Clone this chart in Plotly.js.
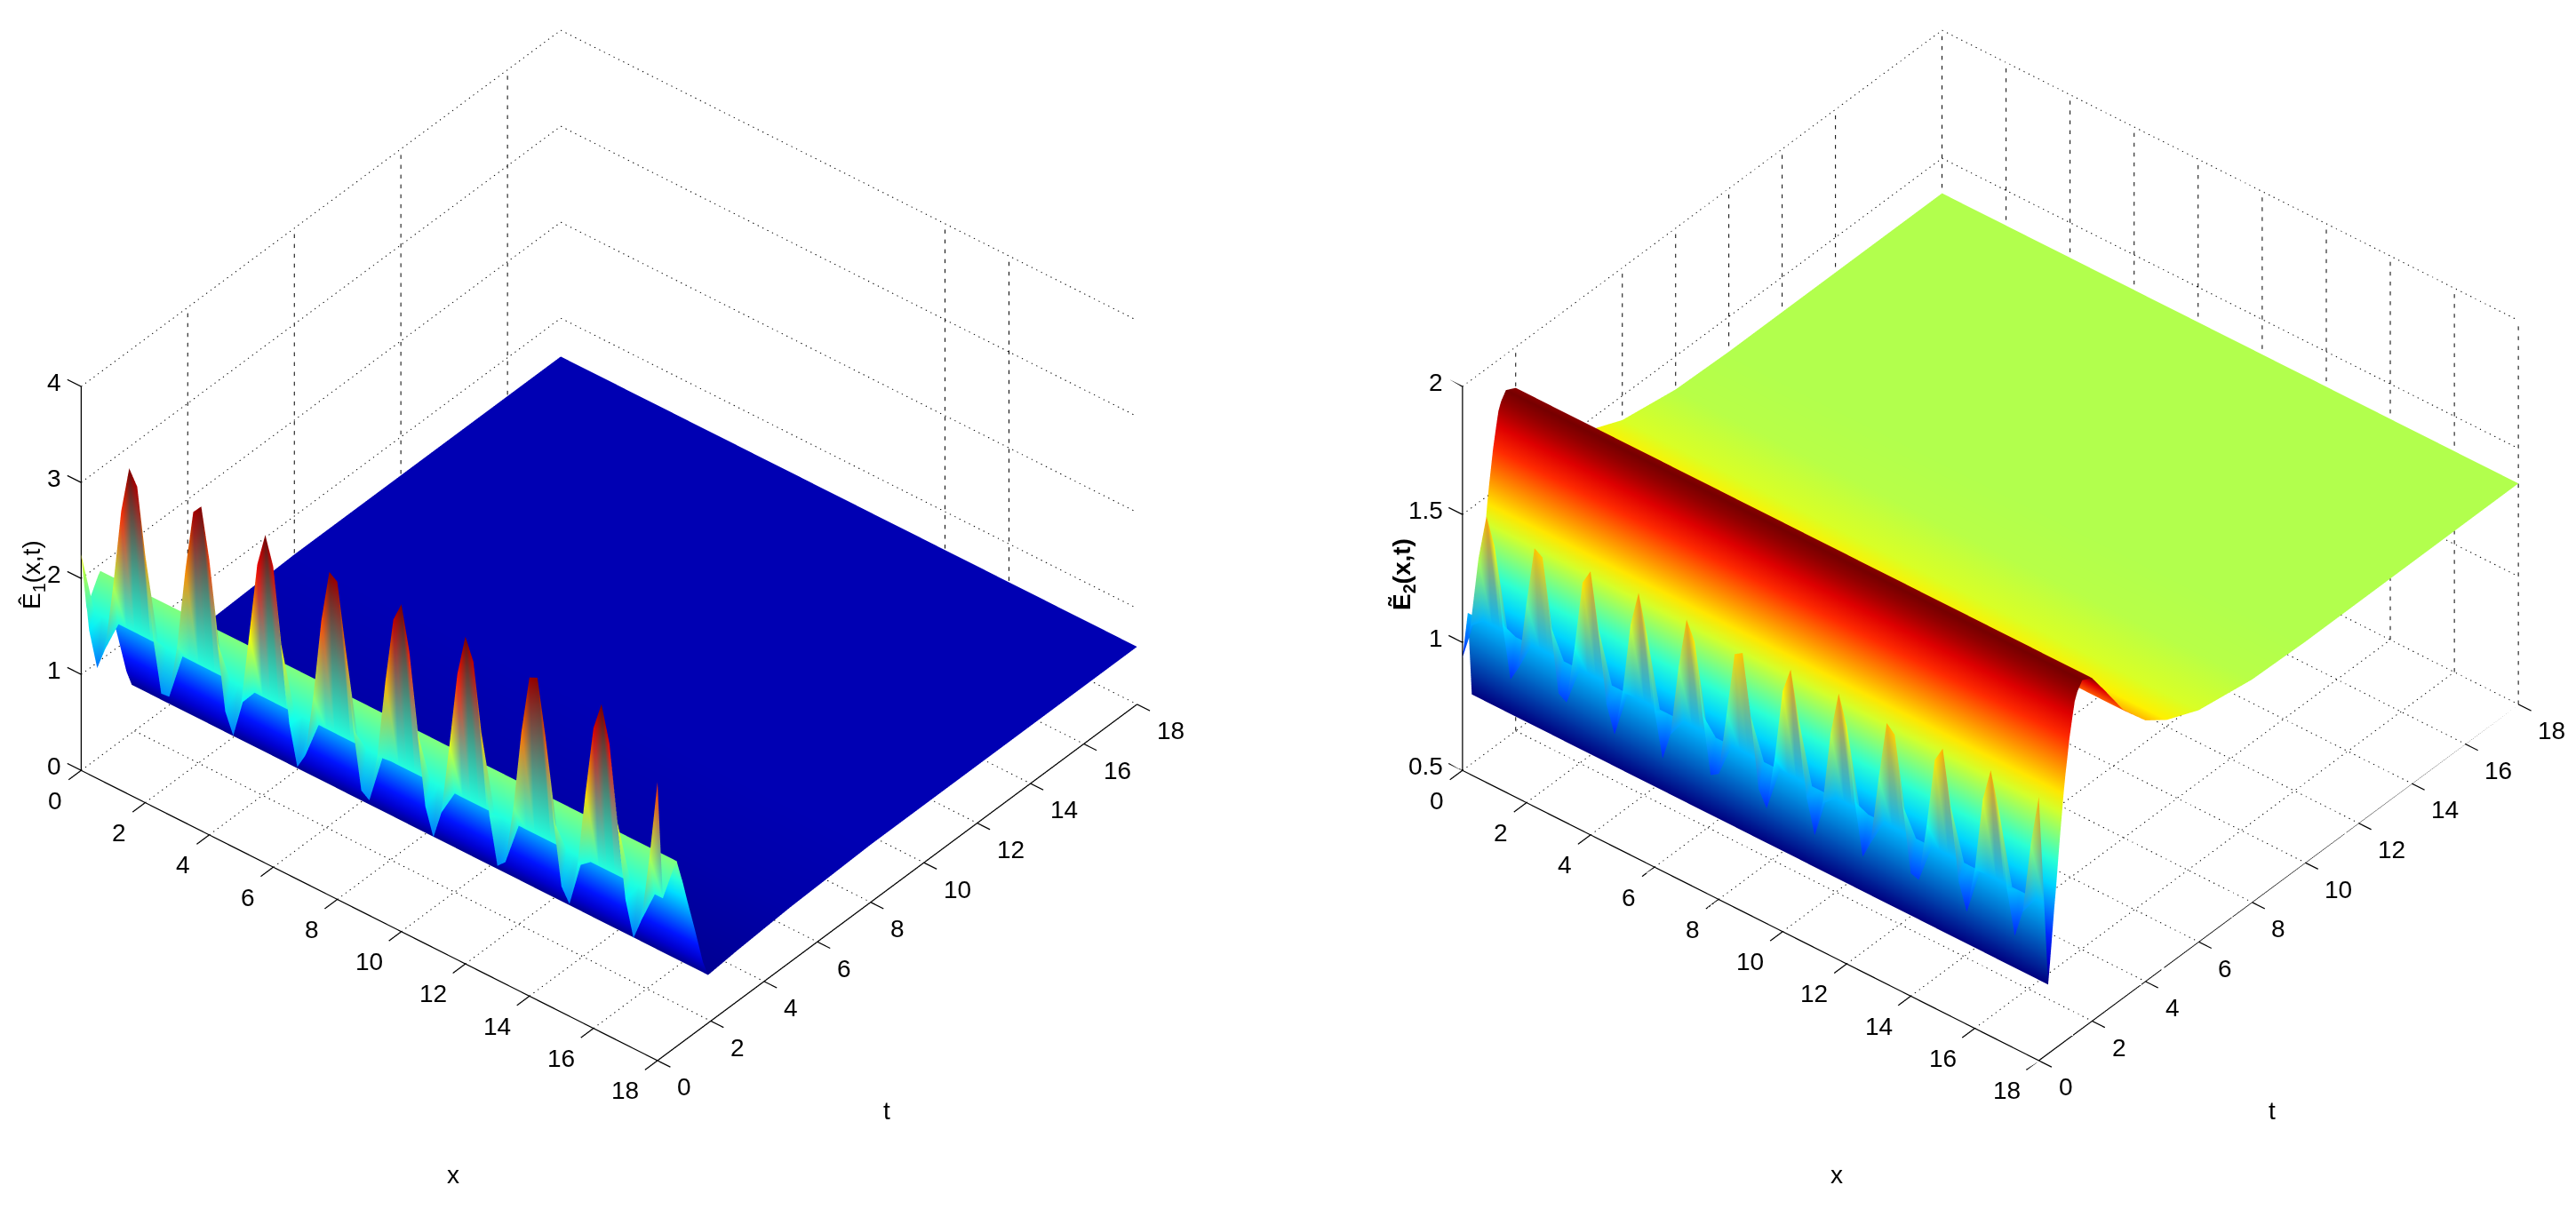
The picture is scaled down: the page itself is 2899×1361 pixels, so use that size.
<!DOCTYPE html>
<html>
<head>
<meta charset="utf-8">
<script src="https://cdn.plot.ly/plotly-3.0.1.min.js"></script>
<style>html,body{margin:0;padding:0;background:#fff}#plot{width:2899px;height:1361px}</style>
</head>
<body>
<div id="plot"></div>
<script>
// x samples along the first row of both surfaces
const xValues = [0,0.25,0.5,0.75,1,1.25,1.5,1.75,2,2.25,2.5,2.75,3,3.25,3.5,3.75,4,4.25,4.5,4.75,5,5.25,5.5,5.75,6,6.25,6.5,6.75,7,7.25,7.5,7.75,8,8.25,8.5,8.75,9,9.25,9.5,9.75,10,10.25,10.5,10.75,11,11.25,11.5,11.75,12,12.25,12.5,12.75,13,13.25,13.5,13.75,14,14.25,14.5,14.75,15,15.25,15.5,15.75,16,16.25,16.5,16.75,17,17.25,17.5,17.75,18];

// left surface: oscillating row at t=0, then rows that are flat in x
const leftFirstRow = [2.25,1.50,1.15,1.39,2.09,2.91,3.40,3.25,2.58,1.75,1.22,1.23,1.80,2.62,3.28,3.38,2.87,2.05,1.37,1.16,1.54,2.30,3.07,3.42,3.13,2.36,1.58,1.17,1.33,1.99,2.82,3.37,3.31,2.68,1.85,1.26,1.20,1.70,2.52,3.21,3.41,2.96,2.16,1.43,1.15,1.45,2.19,2.98,3.41,3.19,2.49,1.67,1.19,1.27,1.88,2.71,3.32,3.36,2.79,1.96,1.31,1.17,1.61,2.41,3.13,3.42,3.05,2.27,1.51,1.15,1.38,2.08,2.90];
const leftTimes = [0.2,0.64,0.72,0.83,0.95,1.1,1.25,1.4,1.55,1.7,1.9,3,5,8,18];
const leftRows = [1.65,1.90,1.93,1.80,1.66,1.46,1.27,1.08,0.88,0.68,0.5,0.53,0.57,0.6,0.6];
const leftRange = [0.45, 3.4];
const leftZTicks = [0,1,2,3,4];
// the original only shows some of the wall verticals
const leftWallT = [4,8,12,16];
const leftWallX = [12,14];

// right surface
const rightFirstRow = [0.94,1.08,1.36,1.54,1.44,1.15,0.95,1.01,1.28,1.51,1.49,1.24,0.99,0.97,1.20,1.47,1.53,1.32,1.04,0.94,1.12,1.40,1.54,1.40,1.11,0.94,1.05,1.33,1.53,1.46,1.19,0.97,0.99,1.24,1.49,1.51,1.28,1.01,0.95,1.16,1.44,1.54,1.36,1.07,0.94,1.08,1.37,1.54,1.43,1.15,0.95,1.02,1.29,1.52,1.49,1.23,0.98,0.97,1.20,1.47,1.53,1.32,1.04,0.94,1.12,1.41,1.54,1.40,1.11,0.94,1.05,1.33,1.53];
const rightTimes = [0.2,0.35,0.42,0.5,0.58,0.65,0.72,0.8,0.87,0.93,1,1.07,1.15,1.27,1.35,1.45,1.63,2,2.5,3.2,4,4.8,6,8,10,18];
const rightRows = [1.10,0.77,0.85,0.95,1.05,1.13,1.22,1.32,1.40,1.47,1.54,1.60,1.67,1.75,1.80,1.83,1.86,1.84,1.75,1.62,1.52,1.46,1.405,1.37,1.363,1.363];
const rightRange = [0.77, 1.85];
const rightZTicks = [0.5,1,1.5,2];
const rightWallT = [2,6,8,10,12,14,18];
const rightWallX = [2,4,6,8,10,12,14,16,18];

const axisTicks = [0,2,4,6,8,10,12,14,16,18];

const fontName = 'Liberation Sans';

function jet(v) {
  const c = (d) => Math.round(255 * Math.max(0, Math.min(1, 1.5 - Math.abs(4 * v - d))));
  return 'rgb(' + c(3) + ',' + c(2) + ',' + c(1) + ')';
}

// mesh with colours per vertex, so the long cells mix rgb like the original
function surfaceTrace(firstRow, times, rows, range, scene) {
  const ts = [0].concat(times);
  const x = [], y = [], z = [], vertexcolor = [], i = [], j = [], k = [];
  const nx = xValues.length;
  ts.forEach((t, r) => {
    xValues.forEach((xv, c) => {
      const zv = r === 0 ? firstRow[c] : rows[r - 1];
      x.push(xv); y.push(t); z.push(zv);
      vertexcolor.push(jet((zv - range[0]) / (range[1] - range[0])));
      if (r > 0 && c > 0) {
        const a = (r - 1) * nx + c - 1, b = a + 1, d = a + nx, e = d + 1;
        i.push(a, a); j.push(b, e); k.push(e, d);
      }
    });
  });
  return {
    type: 'mesh3d', x, y, z, i, j, k, vertexcolor, scene,
    flatshading: false, hoverinfo: 'skip', showscale: false,
    lighting: {ambient: 1, diffuse: 0, specular: 0, roughness: 1, fresnel: 0}
  };
}

function seg(o, p, q) {
  o.x.push(p[0], q[0], null); o.y.push(p[1], q[1], null); o.z.push(p[2], q[2], null);
}

// gl line dashes are unreliable here, so cut the grid lines up by hand
function dashed(o, p, q, count, duty) {
  for (let n = 0; n < count; n++) {
    const at = (f) => p.map((v, m) => v + (q[m] - v) * f);
    seg(o, at(n / count), at((n + duty) / count));
  }
}

function lineTrace(o, scene, width) {
  return Object.assign({
    type: 'scatter3d', mode: 'lines', scene, hoverinfo: 'skip', showlegend: false,
    connectgaps: false, line: {color: '#000', width}
  }, o);
}

// back walls and floor dotted, verticals on the walls dashed
function gridTraces(zTicks, wallT, wallX, scene) {
  const z0 = zTicks[0], z1 = zTicks[zTicks.length - 1];
  const dot = {x: [], y: [], z: []}, dash = {x: [], y: [], z: []};
  axisTicks.forEach((v) => {
    // the floor lines at x=18 and t=0 would sit on top of the axis lines
    if (v < 18) dashed(dot, [v, 0, z0], [v, 18, z0], 115, 0.22);
    if (v > 0) dashed(dot, [0, v, z0], [18, v, z0], 120, 0.22);
  });
  wallT.forEach((v) => dashed(dash, [0, v, z0], [0, v, z1], 39, 0.4));
  wallX.forEach((v) => dashed(dash, [v, 18, z0], [v, 18, z1], 39, 0.4));
  zTicks.slice(1).forEach((v) => {
    dashed(dot, [0, 0, v], [0, 18, v], 115, 0.22);
    dashed(dot, [0, 18, v], [18, 18, v], 120, 0.22);
  });
  return [lineTrace(dot, scene, 2), lineTrace(dash, scene, 2)];
}

// the three axis lines and their tick marks
function axisTrace(zTicks, scene) {
  const z0 = zTicks[0], z1 = zTicks[zTicks.length - 1];
  const o = {x: [], y: [], z: []};
  seg(o, [0, 0, z0], [18, 0, z0]);
  seg(o, [18, 0, z0], [18, 18, z0]);
  seg(o, [0, 0, z0], [0, 0, z1]);
  axisTicks.forEach((v) => {
    seg(o, [v, 0, z0], [v, -0.47, z0]);
    seg(o, [18, v, z0], [18.4, v, z0]);
  });
  zTicks.forEach((v) => seg(o, [0, 0, v], [-0.43, 0, v]));
  return lineTrace(o, scene, 2.5);
}

// native axes stay hidden, the range only leaves room for the tick marks
function axis3d(range) {
  return {
    range, showticklabels: false, ticks: '',
    showgrid: false, zeroline: false, showbackground: false, showspikes: false,
    showline: false, title: {text: ''}
  };
}

// tick labels as annotations so they stay upright like the original
function tickLabels(zTicks) {
  const z0 = zTicks[0];
  const base = {showarrow: false, font: {family: fontName, size: 28, color: '#000'}};
  const out = [];
  axisTicks.forEach((v) => {
    out.push(Object.assign({x: v, y: 0, z: z0, text: String(v), xanchor: 'right', xshift: -19, yshift: -34}, base));
    out.push(Object.assign({x: 18, y: v, z: z0, text: String(v), xanchor: 'left', xshift: 20, yshift: -30}, base));
  });
  zTicks.forEach((v) => {
    out.push(Object.assign({x: 0, y: 0, z: v, text: String(v), xanchor: 'right', xshift: -20, yshift: 5}, base));
  });
  return out;
}

function scene(domain, zTicks) {
  return {
    domain,
    xaxis: axis3d([-0.5, 18.5]),
    yaxis: axis3d([-0.5, 18.5]),
    zaxis: axis3d([zTicks[0], zTicks[zTicks.length - 1]]),
    aspectmode: 'manual',
    aspectratio: {x: 1.4609, y: 1.4767, z: 0.9},
    annotations: tickLabels(zTicks),
    camera: {
      projection: {type: 'orthographic'},
      up: {x: 0, y: 0, z: 1},
      center: {x: 0, y: 0, z: 0},
      eye: {x: 1.006, y: -1.222, z: 1.224}
    }
  };
}

function label(text, x, y, angle) {
  return {
    text, x: x / 2899, y: 1 - y / 1361, xref: 'paper', yref: 'paper',
    xanchor: 'center', yanchor: 'middle',
    showarrow: false, textangle: angle || 0,
    font: {family: fontName, size: 28, color: '#000'}
  };
}

const traces = [
  surfaceTrace(leftFirstRow, leftTimes, leftRows, leftRange, 'scene'),
  surfaceTrace(rightFirstRow, rightTimes, rightRows, rightRange, 'scene2')
].concat(gridTraces(leftZTicks, leftWallT, leftWallX, 'scene'), gridTraces(rightZTicks, rightWallT, rightWallX, 'scene2'), [
  axisTrace(leftZTicks, 'scene'),
  axisTrace(rightZTicks, 'scene2')
]);

const layout = {
  width: 2899, height: 1361,
  margin: {l: 0, r: 0, t: 0, b: 0},
  paper_bgcolor: '#fff',
  showlegend: false,
  scene: scene({x: [0.001, 0.472], y: [0.1029, 0.9949]}, leftZTicks),
  scene2: scene({x: [0.5455, 1], y: [0.1029, 0.9949]}, rightZTicks),
  annotations: [
    label('x', 510, 1322),
    label('t', 998, 1250),
    label('x', 2067, 1322),
    label('t', 2557, 1250),
    label('Ê<sub>1</sub>(x,t)', 37, 647, -90),
    label('<b>Ẽ<sub>2</sub>(x,t)</b>', 1579, 647, -90)
  ]
};

Plotly.newPlot('plot', traces, layout, {displayModeBar: false, responsive: false});
</script>
</body>
</html>
